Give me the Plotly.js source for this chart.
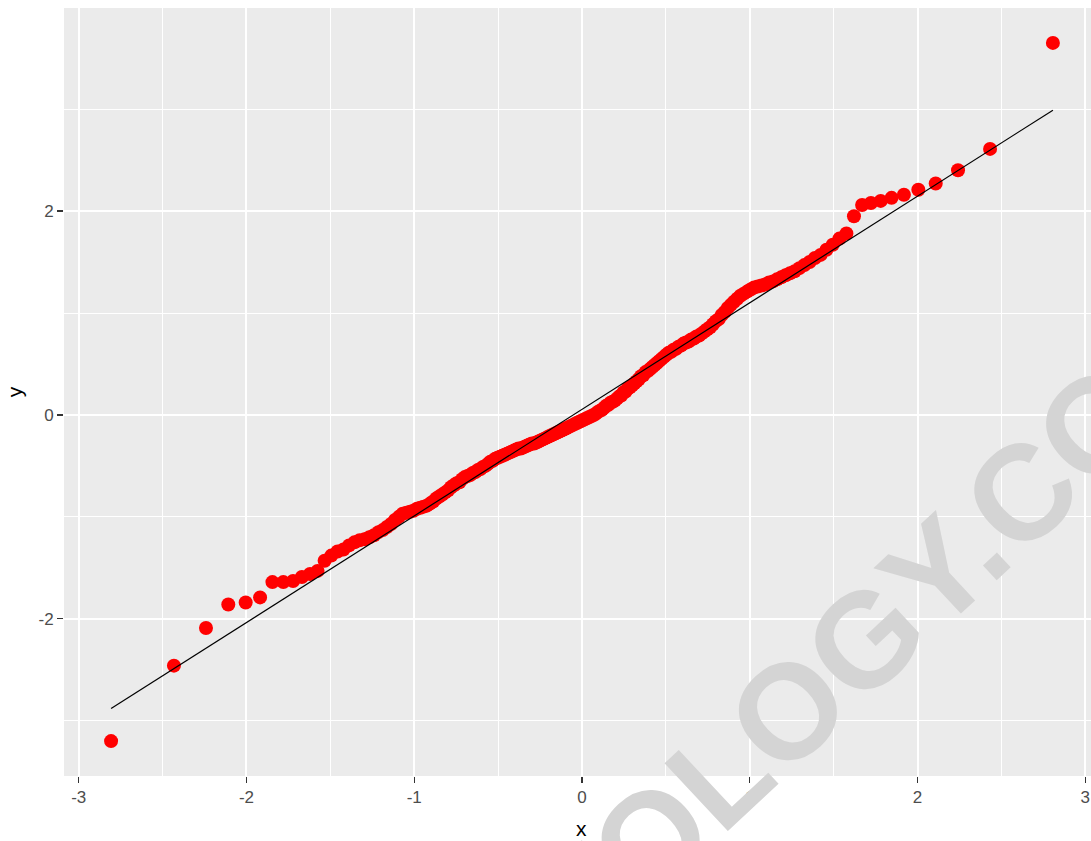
<!DOCTYPE html>
<html>
<head>
<meta charset="utf-8">
<script src="https://cdn.plot.ly/plotly-3.0.1.min.js"></script>
<style>html,body{margin:0;padding:0;overflow:hidden;background:#ffffff}</style>
</head>
<body>
<div id="chart" style="width:1100px;height:841px"></div>
<script>
// Theoretical normal quantiles (x) read along the axis, one per plotted point
const theoretical = [
-2.807,-2.4324,-2.2414,-2.1084,-2.0047,-1.9189,-1.8453,-1.7805,-1.7224,-1.6696,
-1.6211,-1.5761,-1.5341,-1.4945,-1.4574,-1.4221,-1.3885,-1.3564,-1.3256,-1.296,
-1.2675,-1.2399,-1.2133,-1.1876,-1.1626,-1.1383,-1.1147,-1.0916,-1.0691,-1.0472,
-1.0257,-1.0048,-0.9843,-0.9641,-0.9444,-0.925,-0.9059,-0.8871,-0.8687,-0.8506,
-0.8327,-0.8151,-0.7978,-0.7807,-0.7638,-0.7471,-0.7306,-0.7144,-0.6983,-0.6824,
-0.6666,-0.651,-0.6356,-0.6203,-0.6052,-0.5903,-0.5755,-0.5607,-0.5461,-0.5316,
-0.5172,-0.503,-0.4888,-0.4747,-0.4607,-0.4468,-0.4331,-0.4193,-0.4057,-0.3921,
-0.3786,-0.3652,-0.3518,-0.3385,-0.3253,-0.3121,-0.2989,-0.2859,-0.2728,-0.2598,
-0.2468,-0.234,-0.2211,-0.2083,-0.1955,-0.1827,-0.17,-0.1573,-0.1447,-0.132,
-0.1193,-0.1067,-0.0941,-0.0815,-0.069,-0.0565,-0.0439,-0.0314,-0.0188,-0.0063,
0.0063,0.0188,0.0314,0.0439,0.0565,0.069,0.0815,0.0941,0.1067,0.1193,
0.132,0.1447,0.1573,0.17,0.1827,0.1955,0.2083,0.2211,0.234,0.2468,
0.2598,0.2728,0.2859,0.2989,0.3121,0.3253,0.3385,0.3518,0.3652,0.3786,
0.3921,0.4057,0.4193,0.4331,0.4468,0.4607,0.4747,0.4888,0.503,0.5172,
0.5316,0.5461,0.5607,0.5755,0.5903,0.6052,0.6203,0.6356,0.651,0.6666,
0.6824,0.6983,0.7144,0.7306,0.7471,0.7638,0.7807,0.7978,0.8151,0.8327,
0.8506,0.8687,0.8871,0.9059,0.925,0.9444,0.9641,0.9843,1.0048,1.0257,
1.0472,1.0691,1.0916,1.1147,1.1383,1.1626,1.1876,1.2133,1.2399,1.2675,
1.296,1.3256,1.3564,1.3885,1.4221,1.4574,1.4945,1.5341,1.5761,1.6211,
1.6696,1.7224,1.7805,1.8453,1.9189,2.0047,2.1084,2.2414,2.4324,2.807
];

// Sorted sample values (y)
const sample = [
-3.20,-2.46,-2.09,-1.86,-1.84,-1.79,-1.64,-1.64,-1.63,-1.59,
-1.56,-1.53,-1.43,-1.38,-1.34,-1.32,-1.28,-1.25,-1.23,-1.22,
-1.20,-1.18,-1.15,-1.13,-1.10,-1.07,-1.03,-1.00,-0.97,-0.96,
-0.95,-0.94,-0.92,-0.91,-0.90,-0.89,-0.87,-0.85,-0.82,-0.80,
-0.78,-0.76,-0.74,-0.71,-0.69,-0.67,-0.66,-0.63,-0.61,-0.60,
-0.59,-0.57,-0.56,-0.54,-0.53,-0.51,-0.50,-0.48,-0.46,-0.45,
-0.43,-0.42,-0.41,-0.40,-0.39,-0.38,-0.37,-0.36,-0.35,-0.34,
-0.33,-0.33,-0.32,-0.31,-0.30,-0.29,-0.28,-0.28,-0.27,-0.26,
-0.25,-0.24,-0.23,-0.22,-0.21,-0.20,-0.19,-0.18,-0.17,-0.16,
-0.15,-0.14,-0.13,-0.12,-0.11,-0.10,-0.09,-0.08,-0.07,-0.06,
-0.05,-0.04,-0.03,-0.02,-0.01,0.00,0.01,0.03,0.04,0.05,
0.07,0.09,0.10,0.12,0.13,0.14,0.16,0.18,0.19,0.22,
0.23,0.26,0.27,0.29,0.31,0.33,0.35,0.38,0.39,0.42,
0.43,0.45,0.47,0.49,0.51,0.53,0.55,0.57,0.59,0.61,
0.62,0.64,0.65,0.67,0.68,0.70,0.71,0.72,0.74,0.75,
0.77,0.78,0.80,0.82,0.84,0.86,0.89,0.92,0.94,0.98,
1.01,1.05,1.08,1.11,1.14,1.17,1.19,1.21,1.23,1.25,
1.26,1.27,1.28,1.30,1.31,1.33,1.35,1.37,1.39,1.41,
1.44,1.47,1.50,1.54,1.57,1.62,1.67,1.73,1.78,1.95,
2.06,2.08,2.10,2.13,2.16,2.21,2.27,2.40,2.61,3.65
];

// Reference line end points
const lineX = [-2.807, 2.807];
const lineY = [-2.88, 2.99];

// Axis ticks
const xTicks = [-3, -2, -1, 0, 1, 2, 3];
const xTickText = ["-3", "-2", "-1", "0", "1", "2", "3"];
const yTicks = [-2, 0, 2];
const yTickText = ["-2", "0", "2"];

const xTitle = "x";
const yTitle = "y";
const watermarkText = "STATOLOGY.COM";

const traces = [
  {
    type: "scatter", mode: "markers", x: theoretical, y: sample,
    marker: {color: "#ff0000", size: 14, line: {width: 0}},
    hoverinfo: "x+y", showlegend: false
  },
  {
    type: "scatter", mode: "lines", x: lineX, y: lineY,
    line: {color: "#000000", width: 1.2},
    hoverinfo: "skip", showlegend: false
  }
];

const fam = "Liberation Sans, Arial, sans-serif";
const tickFont = {family: fam, size: 17, color: "#4d4d4d"};
const titleFont = {family: fam, size: 21, color: "#000000"};

const layout = {
  width: 1100, height: 841,
  margin: {l: 64, r: 0, t: 8, b: 65},
  paper_bgcolor: "#ffffff",
  plot_bgcolor: "#ebebeb",
  showlegend: false,
  xaxis: {
    range: [-3.0877, 3.0877],
    tickmode: "array", tickvals: xTicks, ticktext: xTickText,
    ticks: "outside", ticklen: 6, tickwidth: 1.2, tickcolor: "#333333",
    tickfont: tickFont,
    showgrid: true, gridcolor: "#ffffff", gridwidth: 2,
    minor: {dtick: 0.5, tick0: 0, showgrid: true, gridcolor: "#ffffff", gridwidth: 1, ticks: ""},
    zeroline: false, showline: false
  },
  yaxis: {
    range: [-3.5425, 3.9925],
    tickmode: "array", tickvals: yTicks, ticktext: yTickText,
    ticks: "outside", ticklen: 6, tickwidth: 1.2, tickcolor: "#333333",
    tickfont: tickFont,
    showgrid: true, gridcolor: "#ffffff", gridwidth: 2,
    minor: {dtick: 1, tick0: 1, showgrid: true, gridcolor: "#ffffff", gridwidth: 1, ticks: ""},
    zeroline: false, showline: false,
    title: {text: yTitle, font: titleFont, standoff: 10}
  },
  annotations: [
    {
      text: watermarkText, xref: "paper", yref: "paper",
      x: 0.7037, y: 0.091, xanchor: "center", yanchor: "middle",
      showarrow: false, textangle: -43,
      font: {family: fam, size: 135, color: "#d4d4d4", weight: 700}
    },
    {
      text: xTitle, xref: "paper", yref: "paper",
      x: 0.4997, y: -0.068, xanchor: "center", yanchor: "middle",
      showarrow: false, font: titleFont
    }
  ]
};

Plotly.newPlot("chart", traces, layout, {displayModeBar: false, staticPlot: true});
</script>
</body>
</html>
